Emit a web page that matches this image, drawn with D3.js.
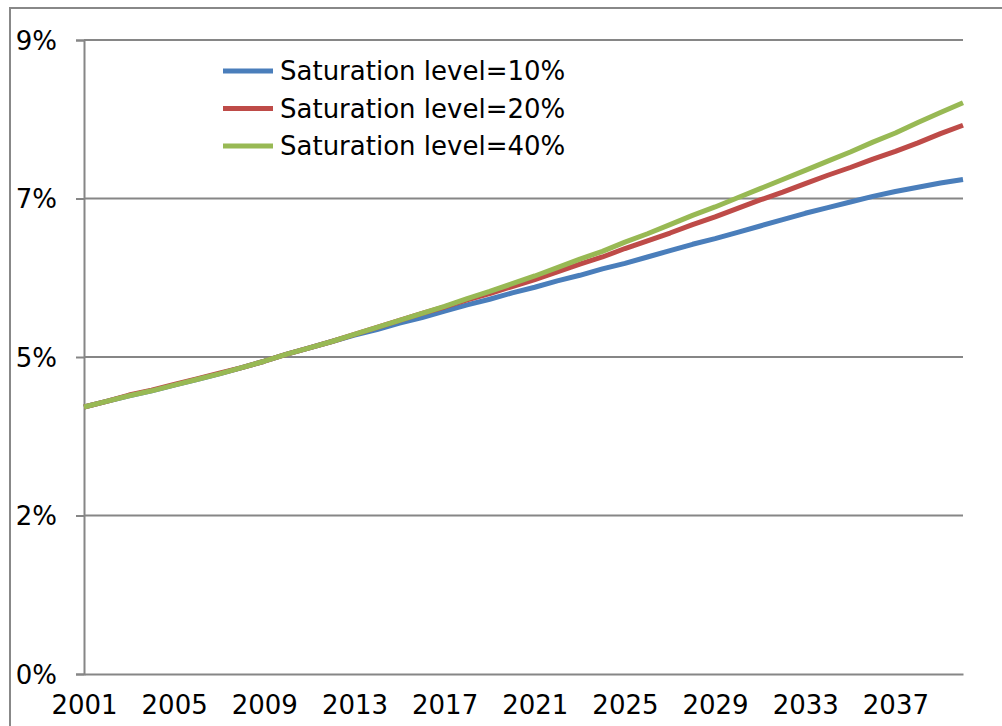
<!DOCTYPE html>
<html>
<head>
<meta charset="utf-8">
<script src="https://cdn.jsdelivr.net/npm/d3@7"></script>
<style>
  body { margin: 0; background: #fff; }
  svg text { font-family: "DejaVu Sans", Verdana, sans-serif; fill: #000; }
</style>
</head>
<body>
<svg id="chart" width="1002" height="726"></svg>
<script>
// 年份
const years = d3.range(2001, 2041);

// 三条饱和度曲线（单位：%）
const sat10 = [3.79, 3.87, 3.95, 4.02, 4.10, 4.18, 4.26, 4.35, 4.44, 4.54,
  4.63, 4.72, 4.81, 4.89, 4.98, 5.06, 5.15, 5.24, 5.32, 5.41,
  5.49, 5.58, 5.66, 5.75, 5.83, 5.92, 6.01, 6.10, 6.18, 6.27,
  6.36, 6.45, 6.54, 6.62, 6.70, 6.78, 6.85, 6.91, 6.97, 7.02];
const sat20 = [3.79, 3.87, 3.96, 4.03, 4.11, 4.19, 4.27, 4.35, 4.44, 4.54,
  4.63, 4.72, 4.82, 4.92, 5.02, 5.12, 5.21, 5.31, 5.40, 5.50,
  5.60, 5.71, 5.82, 5.92, 6.04, 6.15, 6.26, 6.38, 6.49, 6.61,
  6.73, 6.84, 6.96, 7.08, 7.19, 7.31, 7.42, 7.54, 7.67, 7.79];
const sat40 = [3.79, 3.87, 3.95, 4.02, 4.10, 4.18, 4.26, 4.35, 4.44, 4.54,
  4.63, 4.72, 4.82, 4.92, 5.02, 5.12, 5.22, 5.33, 5.43, 5.54,
  5.65, 5.77, 5.89, 6.00, 6.13, 6.25, 6.38, 6.51, 6.63, 6.76,
  6.89, 7.02, 7.15, 7.28, 7.41, 7.55, 7.68, 7.83, 7.97, 8.11];

const seriesNames = ["Saturation level=10%", "Saturation level=20%", "Saturation level=40%"];
const seriesColors = ["#4a7ebb", "#be4b48", "#98b954"];

// 坐标轴刻度
const yTicks = [0, 2.25, 4.5, 6.75, 9];
const yTickLabels = ["0%", "2%", "5%", "7%", "9%"];
const xTicks = d3.range(2001, 2041, 4);

const svg = d3.select("#chart");

const xScale = d3.scaleLinear().domain([2001, 2040]).range([84, 963]);
const yScale = d3.scaleLinear().domain([0, 9]).range([674, 40]);

//外框
svg.append("path")
  .attr("d", "M10,727 L10,8 L1003,8")
  .style("fill", "none")
  .style("stroke", "#888")
  .style("stroke-width", 2);

//网格线
svg.selectAll(".grid")
  .data(yTicks.slice(1))
  .enter()
  .append("line")
  .attr("class", "grid")
  .attr("x1", xScale(2001))
  .attr("x2", xScale(2040))
  .attr("y1", d => yScale(d))
  .attr("y2", d => yScale(d))
  .style("stroke", "#868686")
  .style("stroke-width", 2);

//y轴
const yAxis = d3.axisLeft(yScale)
  .tickValues(yTicks)
  .tickFormat((d, i) => yTickLabels[i])
  .tickSize(8)
  .tickPadding(19);

const gy = svg.append("g")
  .attr("transform", `translate(${xScale(2001)},0)`)
  .call(yAxis);
gy.select(".domain").style("stroke", "#868686").style("stroke-width", 2);
gy.selectAll(".tick line").style("stroke", "#868686").style("stroke-width", 2);
gy.selectAll(".tick text").style("font-size", "26px").attr("dy", "0.36em");

//x轴
const xAxis = d3.axisBottom(xScale)
  .tickValues(xTicks)
  .tickFormat(d3.format("d"))
  .tickSize(0)
  .tickPadding(22);

const gx = svg.append("g")
  .attr("transform", `translate(0,${yScale(0)})`)
  .call(xAxis);
gx.select(".domain").style("stroke", "#868686").style("stroke-width", 2);
gx.selectAll(".tick text").style("font-size", "26px");

//折线
const series = [sat10, sat20, sat40];
const line = d3.line()
  .x((d, i) => xScale(years[i]))
  .y(d => yScale(d));

svg.selectAll(".series")
  .data(series)
  .enter()
  .append("path")
  .attr("class", "series")
  .attr("d", d => line(d))
  .style("fill", "none")
  .style("stroke", (d, i) => seriesColors[i])
  .style("stroke-width", 5)
  .style("stroke-linejoin", "round");

//图例
const legend = svg.selectAll(".legend")
  .data(seriesNames)
  .enter()
  .append("g")
  .attr("class", "legend")
  .attr("transform", (d, i) => `translate(223,${71 + i * 37.5})`);

legend.append("line")
  .attr("x1", 0)
  .attr("x2", 50)
  .style("stroke", (d, i) => seriesColors[i])
  .style("stroke-width", 5);

legend.append("text")
  .attr("x", 57)
  .attr("dy", "0.36em")
  .style("font-size", "26px")
  .text(d => d);
</script>
</body>
</html>
